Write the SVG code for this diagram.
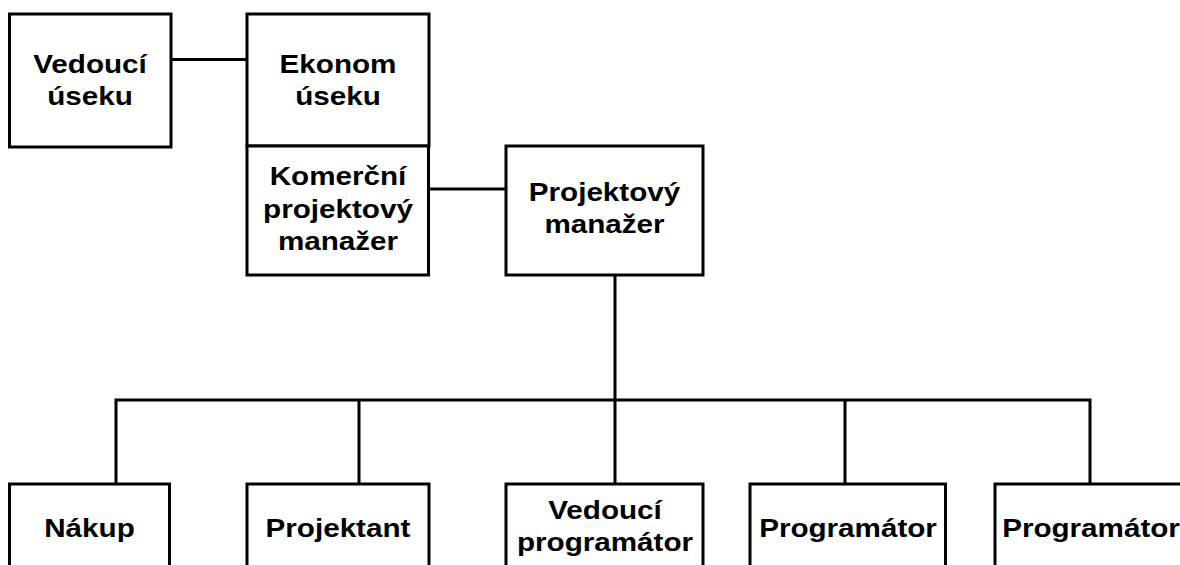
<svg xmlns="http://www.w3.org/2000/svg" width="1180" height="565" viewBox="0 0 1180 565">
<style>
.box{fill:#fff;stroke:#000;stroke-width:3}
.ln{stroke:#000;stroke-width:3;fill:none}
.t{font-family:"Liberation Sans",Arial,sans-serif;font-weight:bold;font-size:26px;fill:#000;text-anchor:middle}
</style>
<rect width="1180" height="565" fill="#fff"/>
<g id="connectors">
<line class="ln" x1="171" y1="59.5" x2="247" y2="59.5"/>
<line class="ln" x1="429" y1="189" x2="506" y2="189"/>
<line class="ln" x1="615" y1="275" x2="615" y2="484"/>
<polyline class="ln" points="116,484 116,400 1090,400 1090,484"/>
<line class="ln" x1="359" y1="400" x2="359" y2="484"/>
<line class="ln" x1="845" y1="400" x2="845" y2="484"/>
</g>
<g id="vedouci-useku">
<rect class="box" x="9.5" y="14" width="161.5" height="133"/>
<text class="t" transform="matrix(1.14 0 0 1 90 0)"><tspan x="0" y="73.5">Vedoucí</tspan><tspan x="0" y="105">úseku</tspan></text>
</g>
<g id="ekonom-useku">
<rect class="box" x="247" y="14" width="182" height="132"/>
<text class="t" transform="matrix(1.14 0 0 1 338 0)"><tspan x="0" y="73.5">Ekonom</tspan><tspan x="0" y="105">úseku</tspan></text>
</g>
<g id="komercni-pm">
<rect class="box" x="247" y="146" width="181.5" height="129"/>
<text class="t" transform="matrix(1.14 0 0 1 338 0)"><tspan x="0" y="185">Komerční</tspan><tspan x="0" y="218">projektový</tspan><tspan x="0" y="250">manažer</tspan></text>
</g>
<g id="projektovy-manazer">
<rect class="box" x="506" y="146" width="197" height="129"/>
<text class="t" transform="matrix(1.14 0 0 1 604.5 0)"><tspan x="0" y="201">Projektový</tspan><tspan x="0" y="233">manažer</tspan></text>
</g>
<g id="nakup">
<rect class="box" x="9.5" y="484" width="160" height="120"/>
<text class="t" transform="matrix(1.14 0 0 1 89.5 0)" x="0" y="537">Nákup</text>
</g>
<g id="projektant">
<rect class="box" x="247" y="484" width="182" height="120"/>
<text class="t" transform="matrix(1.14 0 0 1 338 0)" x="0" y="537">Projektant</text>
</g>
<g id="vedouci-programator">
<rect class="box" x="506" y="484" width="197" height="120"/>
<text class="t" transform="matrix(1.14 0 0 1 605 0)"><tspan x="0" y="519.5">Vedoucí</tspan><tspan x="0" y="551.5">programátor</tspan></text>
</g>
<g id="programator-1">
<rect class="box" x="750" y="484" width="195.5" height="120"/>
<text class="t" transform="matrix(1.14 0 0 1 848 0)" x="0" y="537">Programátor</text>
</g>
<g id="programator-2">
<rect class="box" x="995" y="484" width="205" height="120"/>
<text class="t" transform="matrix(1.14 0 0 1 1091 0)" x="0" y="537">Programátor</text>
</g>
</svg>
